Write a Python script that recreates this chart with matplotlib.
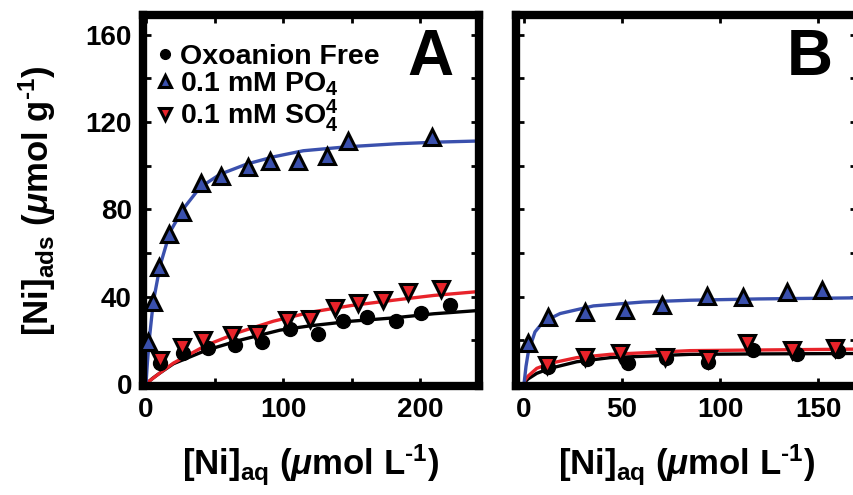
import matplotlib
matplotlib.use("Agg")
import matplotlib.pyplot as plt
from matplotlib.ticker import MultipleLocator

plt.rcParams['font.family'] = ['Liberation Sans', 'DejaVu Sans']
plt.rcParams['font.weight'] = 'bold'
plt.rcParams['axes.labelweight'] = 'bold'
plt.rcParams['mathtext.fontset'] = 'custom'
plt.rcParams['mathtext.rm'] = 'Liberation Sans:bold'
plt.rcParams['mathtext.it'] = 'Liberation Sans:bold:italic'
plt.rcParams['mathtext.bf'] = 'Liberation Sans:bold'
plt.rcParams['mathtext.default'] = 'rm'

# ---- panel A data ----
a_free_x = [10.2, 27.2, 45.5, 65, 84.5, 105, 125.8, 143.6, 161, 182.5, 200.7, 222]
a_free_y = [9.4, 13.9, 16.2, 18, 19.3, 25.3, 23, 28.7, 30.7, 28.7, 32.6, 36.3]
a_po4_x = [1.7, 5.3, 9.7, 17, 26, 40, 54.7, 74.7, 90.5, 111, 132, 147.7, 208.5]
a_po4_y = [19.3, 37.5, 53.5, 68.7, 78.6, 91.9, 95.3, 99.2, 102.2, 102.2, 104.5, 111.3, 113.3]
a_so4_x = [10.2, 26, 41.8, 62.6, 80.8, 102.7, 119.7, 138, 155, 172.8, 191, 215]
a_so4_y = [10.9, 17, 20, 22.3, 23, 29.1, 29.9, 34.8, 37, 38.3, 42.1, 43.3]

# fitted curves, panel A
a_fit_po4_x = [0, 1, 2.5, 5.3, 10.2, 17.5, 27, 39.4, 54, 73.5, 93, 114.8, 146.5, 183, 215, 245]
a_fit_po4_y = [0, 9.6, 21, 37.5, 54, 69.6, 80, 90, 96, 100.7, 104, 106.8, 108.6, 110, 110.8, 111.3]
a_fit_so4_x = [0, 5, 10, 20, 44, 68.6, 93, 120, 150, 180.5, 210, 245]
a_fit_so4_y = [0, 2.5, 4.9, 9.5, 17.7, 23.8, 28.7, 32.8, 35.9, 38.3, 40.5, 42.4]
a_fit_free_x = [0, 5, 10, 20, 44, 68.6, 97.8, 120, 150, 180.5, 210, 245]
a_fit_free_y = [0, 2.6, 4.9, 9.2, 15.4, 20, 24.6, 26.6, 28.7, 30.2, 32.1, 33.7]

# ---- panel B data ----
b_free_x = [12.4, 32, 53.2, 72.4, 94, 117, 139.3, 160]
b_free_y = [7.9, 11.6, 9.4, 12, 10.1, 15.4, 13.5, 15]
b_po4_x = [2.2, 12.4, 31.1, 51.5, 70.2, 93.2, 111.9, 134, 151.9]
b_po4_y = [18.5, 30.7, 33, 33.7, 36.3, 40.3, 39.8, 42.1, 42.8]
b_so4_x = [11.6, 31.1, 49, 71.9, 94, 113.6, 136.6, 158.7]
b_so4_y = [8.6, 12.4, 13.9, 12.4, 11.6, 18.5, 15.4, 16.2]

b_fit_po4_x = [0, 1, 2.2, 5.6, 9.8, 18.4, 35.4, 60.9, 84.7, 120, 170]
b_fit_po4_y = [0, 8, 14.7, 23.8, 28.4, 32.2, 35.7, 37.5, 38.3, 38.9, 39.4]
b_fit_so4_x = [0, 0.5, 2, 6.5, 13.3, 26.9, 43.9, 84.7, 120, 170]
b_fit_so4_y = [0, 1.7, 3.5, 7.1, 9.4, 12, 13.5, 15.2, 15.5, 15.9]
b_fit_free_x = [0, 0.5, 2, 6.5, 13.3, 26.9, 43.9, 84.7, 120, 170]
b_fit_free_y = [0, 0.8, 2.2, 4.8, 7.1, 10.1, 12, 13.5, 13.7, 13.9]

blue = '#3a50ad'
red = '#e8232a'

fig = plt.figure(figsize=(8.54, 4.95), dpi=100)
W, H = 854, 495
axA = fig.add_axes([143 / W, (H - 386) / H, (479 - 143) / W, (386 - 15) / H])
axB = fig.add_axes([516 / W, (H - 386) / H, (858 - 516) / W, (386 - 15) / H])

xlab = r'[Ni]$_{aq}$ ($\mathit{\mu}$mol L$^{\text{-1}}$)'
ylab = r'[Ni]$_{ads}$ ($\mathit{\mu}$mol g$^{\text{-1}}$)'


def draw(ax, fx, fy, px, py, sx, sy, cf, cp, cs):
    ax.plot(cf[0], cf[1], color='black', lw=2.4, zorder=2)
    ax.plot(cs[0], cs[1], color=red, lw=2.4, zorder=2)
    ax.plot(cp[0], cp[1], color=blue, lw=2.4, zorder=2)
    h1, = ax.plot(fx, fy, 'o', ms=10, color='black', mec='black', zorder=3)
    h3, = ax.plot(sx, sy, 'v', ms=12, mfc=red, mec='black', mew=2.2, zorder=4)
    h2, = ax.plot(px, py, '^', ms=12, mfc=blue, mec='black', mew=2.2, zorder=4)
    ax.set_ylim(-1, 169)
    ax.yaxis.set_major_locator(MultipleLocator(40))
    ax.yaxis.set_minor_locator(MultipleLocator(20))
    for s in ax.spines.values():
        s.set_linewidth(6)
    ax.tick_params(which='both', direction='in', top=True, right=True,
                   width=2, length=6, labelsize=20, pad=8)
    ax.set_xlabel(xlab, fontsize=25, labelpad=14)
    return h1, h2, h3


h1, h2, h3 = draw(axA, a_free_x, a_free_y, a_po4_x, a_po4_y, a_so4_x, a_so4_y,
                  (a_fit_free_x, a_fit_free_y), (a_fit_po4_x, a_fit_po4_y),
                  (a_fit_so4_x, a_fit_so4_y))
draw(axB, b_free_x, b_free_y, b_po4_x, b_po4_y, b_so4_x, b_so4_y,
     (b_fit_free_x, b_fit_free_y), (b_fit_po4_x, b_fit_po4_y),
     (b_fit_so4_x, b_fit_so4_y))

axA.set_xlim(-2.2, 243)
axA.xaxis.set_major_locator(MultipleLocator(100))
axA.xaxis.set_minor_locator(MultipleLocator(50))
axB.set_xlim(-4.1, 170.4)
axB.xaxis.set_major_locator(MultipleLocator(50))
axB.tick_params(axis='y', labelleft=False)

axA.set_ylabel(ylab, fontsize=25, labelpad=20)

axA.text(0.855, 0.885, 'A', transform=axA.transAxes, fontsize=46, fontweight='bold',
         ha='center', va='center')
axB.text(0.86, 0.885, 'B', transform=axB.transAxes, fontsize=46, fontweight='bold',
         ha='center', va='center')

leg = axA.legend([h1, h2, h3],
                 ['Oxoanion Free', r'0.1 mM PO$_{4}$', r'0.1 mM SO$^{4}_{4}$'],
                 loc='upper left', bbox_to_anchor=(-0.02, 0.975), frameon=False,
                 markerscale=0.7, handlelength=0.6, handletextpad=0.25,
                 labelspacing=0.0, borderaxespad=0.3,
                 prop={'weight': 'bold', 'size': 20.5})

fig.savefig('out.png', dpi=100)
